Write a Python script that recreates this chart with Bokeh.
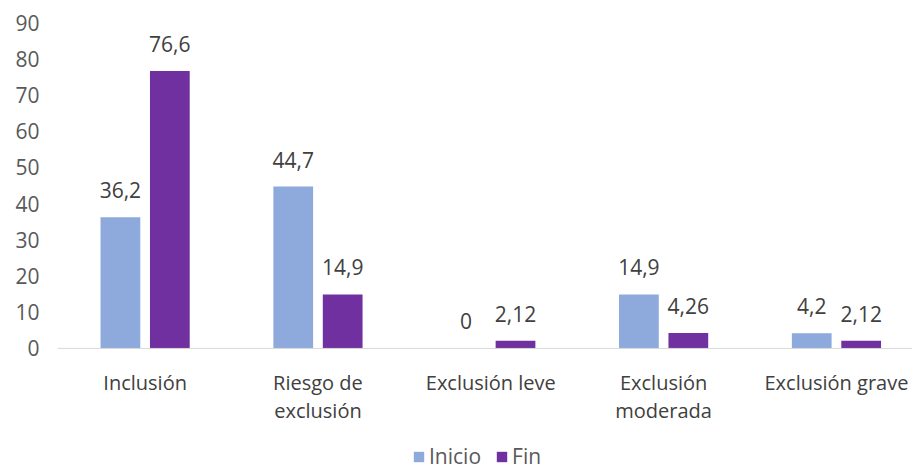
from bokeh.plotting import figure
from bokeh.models import (ColumnDataSource, Range1d, FixedTicker, Legend, LegendItem,
                          LabelSet, Span)
from bokeh.core.properties import value
from bokeh.embed import file_html
from bokeh.resources import INLINE

# Grupos de situación social y porcentajes al inicio y al final
categorias = ["Inclusión", "Riesgo de\nexclusión", "Exclusión leve",
              "Exclusión\nmoderada", "Exclusión grave"]
inicio = [36.2, 44.7, 0, 14.9, 4.2]
fin = [76.6, 14.9, 2.12, 4.26, 2.12]
y_ticks = [0, 10, 20, 30, 40, 50, 60, 70, 80, 90]

COLOR_INICIO = "#8EA9DB"
COLOR_FIN = "#7030A0"
FONT = "Open Sans"
FONT_SIZE = "21px"
CAT_FONT_SIZE = "20px"
TEXT_COLOR = "#595959"

def fmt(v):
    return f"{v:g}".replace(".", ",")

idx = list(range(len(categorias)))
offset = 0.143
bar_w = 0.23

src_ini = ColumnDataSource(dict(x=[i - offset for i in idx], top=inicio,
                                label=[fmt(v) for v in inicio]))
src_fin = ColumnDataSource(dict(x=[i + offset for i in idx], top=fin,
                                label=[fmt(v) for v in fin]))
src_cat = ColumnDataSource(dict(x=idx, y=[0] * len(idx), text=categorias))

# El área de trazado baja hasta el borde inferior para alojar nombres y leyenda
p = figure(width=912, height=470, output_backend="svg", toolbar_location=None,
           x_range=Range1d(-0.507, 4.44), y_range=Range1d(-33.7, 90),
           min_border_left=57, min_border_right=0, min_border_top=22,
           min_border_bottom=0, outline_line_color=None,
           background_fill_color="white", border_fill_color="white")

r_ini = p.vbar(x="x", top="top", width=bar_w, source=src_ini,
               fill_color=COLOR_INICIO, line_color=None)
r_fin = p.vbar(x="x", top="top", width=bar_w, source=src_fin,
               fill_color=COLOR_FIN, line_color=None)

# Línea base gris en y = 0
p.add_layout(Span(location=0, dimension="width", line_color="#D9D9D9",
                  line_width=1))

# Etiquetas de valor sobre cada barra
for src in (src_ini, src_fin):
    p.add_layout(LabelSet(x="x", y="top", text="label", source=src,
                          text_align="center", text_baseline="bottom",
                          y_offset=19, text_font=value(FONT),
                          text_font_size=value(FONT_SIZE),
                          text_color="#404040"))

# Nombres de categoría bajo la línea base
p.text(x="x", y="y", text="text", source=src_cat, text_align="center",
       text_baseline="top", y_offset=21, text_font=value(FONT),
       text_font_size=value(CAT_FONT_SIZE), text_color="#404040",
       text_line_height=1.03)

p.xgrid.visible = False
p.ygrid.visible = False
p.xaxis.visible = False

# Eje Y: solo etiquetas
p.yaxis.ticker = FixedTicker(ticks=y_ticks)
p.yaxis.axis_line_color = None
p.yaxis.major_tick_line_color = None
p.yaxis.minor_tick_line_color = None
p.yaxis.major_label_standoff = 12
p.yaxis.major_label_text_font = FONT
p.yaxis.major_label_text_font_size = FONT_SIZE
p.yaxis.major_label_text_color = TEXT_COLOR

# Leyenda horizontal al pie
legend = Legend(items=[LegendItem(label="Inicio", renderers=[r_ini]),
                       LegendItem(label="Fin", renderers=[r_fin])],
                orientation="horizontal", location=(355, 0),
                padding=0, margin=0, spacing=14, label_standoff=4,
                glyph_width=13, glyph_height=13, label_height=16,
                label_text_font=FONT, label_text_font_size=FONT_SIZE,
                label_text_line_height=0.8,
                label_text_color=TEXT_COLOR, border_line_color=None,
                background_fill_alpha=0)
p.add_layout(legend, "center")

open("out.html", "w").write(file_html(p, INLINE))
